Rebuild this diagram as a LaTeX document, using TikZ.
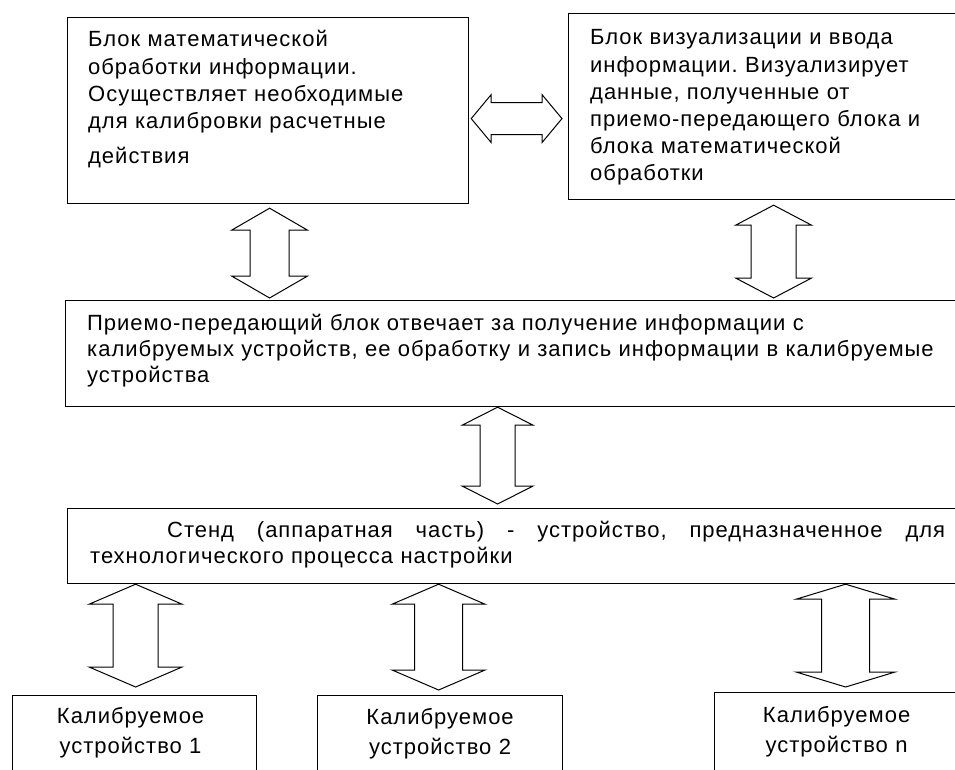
\documentclass[tikz,border=0pt]{standalone}
\usepackage{fontspec}
\setmainfont{Liberation Sans}[LetterSpace=4.5]
\frenchspacing
\usetikzlibrary{calc}
% vertical two-way block arrow: tip, other tip, shaft half, head half, head length
\newcommand{\twoway}[5]{%
\draw[fat] let \p1=(#1), \p2=(#2) in (\p1) -- (\x1+#4pt,\y1-#5pt) -- (\x1+#3pt,\y1-#5pt) -- (\x1+#3pt,\y2+#5pt) -- (\x1+#4pt,\y2+#5pt) -- (\x1,\y2) -- (\x1-#4pt,\y2+#5pt) -- (\x1-#3pt,\y2+#5pt) -- (\x1-#3pt,\y1-#5pt) -- (\x1-#4pt,\y1-#5pt) -- cycle;}
% the same lying down
\newcommand{\twowayh}[5]{%
\draw[fat] let \p1=(#1), \p2=(#2) in (\p1) -- (\x1+#5pt,\y1+#4pt) -- (\x1+#5pt,\y1+#3pt) -- (\x2-#5pt,\y1+#3pt) -- (\x2-#5pt,\y1+#4pt) -- (\x2,\y1) -- (\x2-#5pt,\y1-#4pt) -- (\x2-#5pt,\y1-#3pt) -- (\x1+#5pt,\y1-#3pt) -- (\x1+#5pt,\y1-#4pt) -- cycle;}
\begin{document}
\begin{tikzpicture}[x=1pt,y=1pt,
  blk/.style={draw,line width=1.2pt,rectangle,inner sep=0pt,anchor=north west},
  txt/.style={inner sep=0pt,anchor=base west,text width=#1,align=left,font=\fontsize{22}{27.2}\selectfont},
  devtxt/.style={inner sep=0pt,anchor=base,text width=240pt,align=center,font=\fontsize{22}{30}\selectfont},
  fat/.style={draw,line width=1pt,fill=white,line join=miter}]
\useasboundingbox (0,0) rectangle (955,-770);
\node[blk,minimum width=401pt,minimum height=186pt] (math) at (67,-17) {};
\node[blk,minimum width=389pt,minimum height=186pt] (vis) at (568,-13) {};
\node[blk,minimum width=892pt,minimum height=106pt] (recv) at (65,-300) {};
\node[blk,minimum width=890pt,minimum height=75pt] (stand) at (67,-508) {};
\node[blk,minimum width=244pt,minimum height=100pt] (dev1) at (12,-695) {};
\node[blk,minimum width=245pt,minimum height=100pt] (dev2) at (317,-695) {};
\node[blk,minimum width=244pt,minimum height=100pt] (devn) at (714,-692) {};
\node[txt=370pt] (mathtxt) at (88,-47) {Блок математической\\обработки информации.\\Осуществляет необходимые\\для калибровки расчетные\\[8pt]действия};
\node[txt=360pt] (vistxt) at (590,-45) {Блок визуализации и ввода\\информации. Визуализирует\\данные, полученные от\\приемо-передающего блока и\\блока математической\\обработки};
\node[txt=860pt,font=\fontsize{22}{26}\selectfont] (recvtxt) at (87,-330) {Приемо-передающий блок отвечает за получение информации с\\калибруемых устройств, ее обработку и запись информации в калибруемые\\устройства};
\node[txt=860pt,font=\fontsize{22}{26}\selectfont] (standtxt) at (90,-537) {\hbox to 855pt{\hspace*{77pt}Стенд\hfill(аппаратная\hfill часть)\hfill-\hfill устройство,\hfill предназначенное\hfill для}\\технологического процесса настройки};
\node[devtxt] (dev1txt) at ($(dev1.north)+(-4,-28)$) {Калибруемое\\устройство 1};
\node[devtxt] (dev2txt) at ($(dev2.north)+(0,-29)$) {Калибруемое\\устройство 2};
\node[devtxt] (devntxt) at ($(devn.north)+(0,-30)$) {Калибруемое\\устройство n};
\twowayh{$(math.east)+(2,-8)$}{$(vis.west)+(-6,0)$}{16}{24}{20}
\twoway{$(math.south)+(1.5,-4)$}{$(recv.north)+(0,2)$}{19.5}{38}{22}
\twoway{$(vis.south)+(10.5,-5)$}{$(recv.north)+(0,2)$}{22.5}{38}{20}
\twoway{$(recv.south)+(-14,0)$}{$(stand.north)+(0,4)$}{17.5}{35.5}{18}
\twoway{$(dev1.north |- stand.south)+(1,0)$}{$(dev1.north)+(0,8)$}{22.5}{46.5}{20}
\twoway{$(dev2.north |- stand.south)+(-1.5,0)$}{$(dev2.north)+(0,5)$}{24}{46.5}{20}
\twoway{$(devn.north |- stand.south)+(9,0)$}{$(devn.north)+(0,5)$}{24}{49.5}{15}
\end{tikzpicture}
\end{document}
